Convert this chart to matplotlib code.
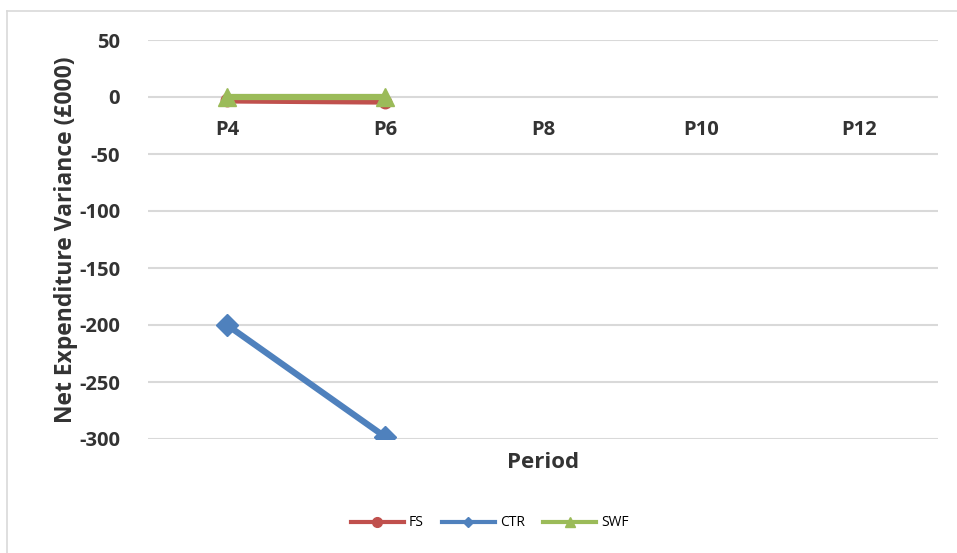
import matplotlib
matplotlib.use("Agg")
import matplotlib.pyplot as plt
from matplotlib.lines import Line2D

# data
periods = ["P4", "P6", "P8", "P10", "P12"]
fs = [-3, -4]
ctr = [-200, -298]
swf = [0, 0]
y_ticks = [50, 0, -50, -100, -150, -200, -250, -300]

W, H = 957, 553
fig = plt.figure(figsize=(W / 100, H / 100), dpi=100)
plt.rcParams["font.family"] = ["Open Sans", "DejaVu Sans"]
dark = "#333333"

# outer chart border (only top and left visible)
fig.add_artist(Line2D([7 / W, 7 / W], [0, 1 - 11 / H], color="#d9d9d9", lw=1.2))
fig.add_artist(Line2D([7 / W, 1], [1 - 11 / H, 1 - 11 / H], color="#d9d9d9", lw=1.2))

# plot area: x 148..938 px, y 40 (50) .. 439 (-300)
ax = fig.add_axes([148 / W, 1 - 439 / H, (938 - 148) / W, (439 - 40) / H])
ax.set_xlim(-0.5, len(periods) - 0.5)
ax.set_ylim(-300, 50)
for s in ax.spines.values():
    s.set_visible(False)

for v in y_ticks:
    ax.axhline(v, color="#d9d9d9", lw=1.5, zorder=0)

ax.set_yticks(y_ticks)
ax.set_yticklabels([str(v) for v in y_ticks], fontsize=14.5, fontweight="bold", color=dark)
ax.tick_params(axis="y", length=0, pad=20)
ax.set_xticks([])

# category labels sit just below the zero line
for i, p in enumerate(periods):
    ax.text(i, -29, p, ha="center", va="center", fontsize=14.5, fontweight="bold", color=dark)

x = list(range(2))
ax.plot(x, fs, color="#c0504d", lw=4.5, marker="o", ms=9, label="FS", zorder=3)
ax.plot(x, ctr, color="#4f81bd", lw=4.5, marker="D", ms=11, label="CTR", zorder=3)
ax.plot(x, swf, color="#9bbb59", lw=4.5, marker="^", ms=13, label="SWF", zorder=4)

ax.set_ylabel("Net Expenditure Variance (£000)", fontsize=16.5, fontweight="bold",
              color=dark, labelpad=1)
fig.text(543 / W, 1 - 462 / H, "Period", ha="center", va="center",
         fontsize=16, fontweight="bold", color=dark)

handles = [
    Line2D([], [], color="#c0504d", lw=3, marker="o", ms=7),
    Line2D([], [], color="#4f81bd", lw=3, marker="D", ms=5),
    Line2D([], [], color="#9bbb59", lw=3, marker="^", ms=7),
]
fig.legend(handles, ["FS", "CTR", "SWF"], loc="center", bbox_to_anchor=(490 / W, 1 - 523 / H),
           ncol=3, frameon=False, fontsize=10, handlelength=3.8, columnspacing=1.3,
           handletextpad=0.4)

fig.savefig("out.png", dpi=100)
